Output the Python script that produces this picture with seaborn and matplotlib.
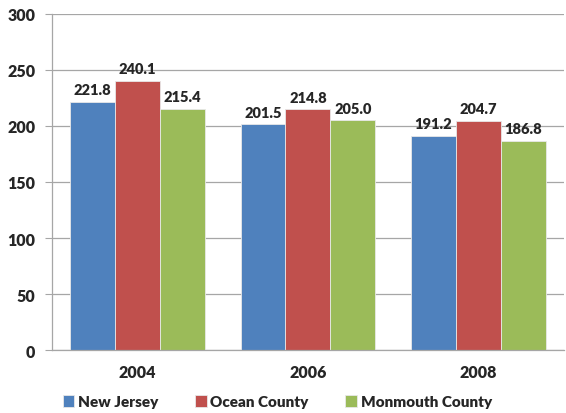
import numpy as np
import pandas as pd
import matplotlib
matplotlib.use("Agg")
import matplotlib.pyplot as plt
import seaborn as sns

# --- Data ---
YEARS = ["2004", "2006", "2008"]
REGIONS = ["New Jersey", "Ocean County", "Monmouth County"]
NEW_JERSEY = [221.8, 201.5, 191.2]
OCEAN_COUNTY = [240.1, 214.8, 204.7]
MONMOUTH_COUNTY = [215.4, 205.0, 186.8]

COLORS = ["#4F81BD", "#C0504D", "#9BBB59"]
GRID_COLOR = "#A6A6A6"
WEIGHT = "heavy"


def main() -> None:
    sns.set_style("white")
    plt.rcParams["font.family"] = ["Lato", "DejaVu Sans"]

    df = pd.DataFrame({
        "year": YEARS * 3,
        "region": np.repeat(REGIONS, len(YEARS)),
        "value": NEW_JERSEY + OCEAN_COUNTY + MONMOUTH_COUNTY,
    })

    fig = plt.figure(figsize=(5.66, 4.14), dpi=100)
    ax = fig.add_axes([0.092, 0.152, 0.904, 0.812])

    sns.barplot(
        data=df, x="year", y="value", hue="region",
        order=YEARS, hue_order=REGIONS, palette=COLORS,
        width=0.79, saturation=1, errorbar=None, ax=ax,
        edgecolor="#E8E8E8", linewidth=0.6,
    )

    for container in ax.containers:
        ax.bar_label(container, fmt="%.1f", padding=4,
                     fontsize=10.5, fontweight=WEIGHT)

    ax.set_ylim(0, 300)
    ax.set_yticks(np.arange(0, 301, 50))
    ax.set_xlim(-0.5, len(YEARS) - 0.5)
    ax.yaxis.grid(True, color=GRID_COLOR, linewidth=0.9)
    ax.set_axisbelow(True)

    for side in ["top", "right"]:
        ax.spines[side].set_visible(False)
    for side in ["left", "bottom"]:
        ax.spines[side].set_color(GRID_COLOR)
        ax.spines[side].set_linewidth(0.9)

    ax.set_xticks(np.arange(-0.5, len(YEARS)), minor=True)
    ax.tick_params(axis="x", which="major", length=0, pad=10)
    ax.tick_params(axis="x", which="minor", length=5, color=GRID_COLOR,
                   direction="out")
    ax.tick_params(axis="y", length=5, color=GRID_COLOR, direction="out",
                   left=True, pad=7)
    for lbl in ax.get_xticklabels() + ax.get_yticklabels():
        lbl.set_fontweight(WEIGHT)
        lbl.set_fontsize(11.5)

    ax.set_xlabel("")
    ax.set_ylabel("")

    handles, labels = ax.get_legend_handles_labels()
    ax.legend_.remove()
    fig.legend(
        handles, labels, loc="center", bbox_to_anchor=(0.49, 0.027),
        ncol=3, frameon=False, handlelength=0.75, handleheight=0.75,
        handletextpad=0.25, columnspacing=2.4,
        prop={"weight": WEIGHT, "size": 11},
    )

    fig.savefig("out.png", dpi=100)
    plt.close(fig)


if __name__ == "__main__":
    main()
